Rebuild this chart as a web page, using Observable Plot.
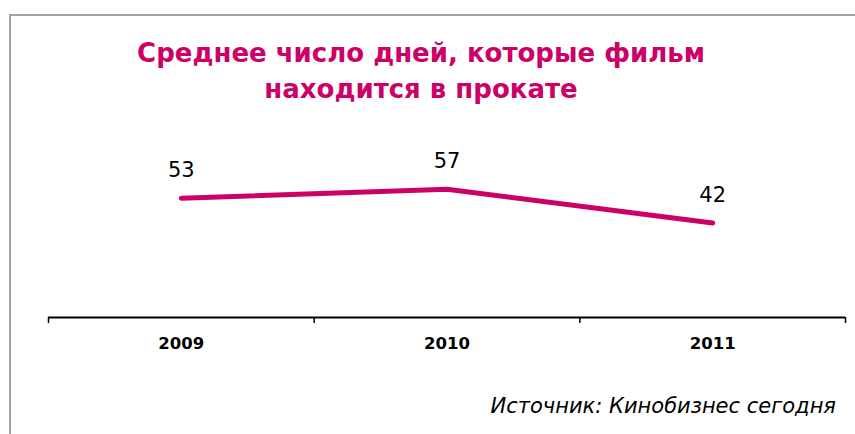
<!DOCTYPE html>
<html>
<head>
<meta charset="utf-8">
<script src="https://cdn.jsdelivr.net/npm/d3@7"></script>
<script src="https://cdn.jsdelivr.net/npm/@observablehq/plot@0.6"></script>
<style>
  html, body { margin: 0; padding: 0; background: #fff; }
  #wrap { position: relative; width: 855px; height: 434px; overflow: hidden; font-family: "DejaVu Sans", Verdana, sans-serif; }
  #frame { position: absolute; left: 9px; top: 14px; width: 900px; height: 500px; border-left: 2px solid #a3a3a3; border-top: 2px solid #a3a3a3; }
  #title { position: absolute; left: 0; top: 35px; width: 842px; text-align: center; color: #cc0066; font-weight: bold; font-size: 26px; line-height: 36px; }
  #chart { position: absolute; left: 0; top: 0; }
  #source { position: absolute; right: 19px; top: 394px; font-style: italic; font-size: 21px; color: #000; }
  #chart svg g[aria-label="x-axis tick label"] text { font-weight: bold; }
</style>
</head>
<body>
<div id="wrap">
  <div id="frame"></div>
  <div id="chart"></div>
  <div id="title">Среднее число дней, которые фильм<br>находится в прокате</div>
  <div id="source">Источник: Кинобизнес сегодня</div>
</div>
<script>
const years = [2009, 2010, 2011];
const days = [53, 57, 42];
const yearLabels = ["2009", "2010", "2011"];
const bandEdges = [2008.5, 2009.5, 2010.5, 2011.5];

const data = years.map((y, i) => ({year: y, days: days[i], label: String(days[i])}));

const chart = Plot.plot({
  width: 855,
  height: 434,
  marginLeft: 48,
  marginRight: 10,
  marginTop: 92,
  marginBottom: 117,
  style: {fontFamily: "'DejaVu Sans', Verdana, sans-serif", background: "transparent", overflow: "visible"},
  x: {domain: [2008.5, 2011.5], label: null},
  y: {domain: [0, 100], axis: null, label: null},
  marks: [
    Plot.ruleY([0], {stroke: "#000", strokeWidth: 2}),
    Plot.axisX(bandEdges, {tickSize: 6, tickFormat: () => "", stroke: "#000", strokeWidth: 1.5, label: null}),
    Plot.axisX(years, {tickSize: 0, tickPadding: 20, tickFormat: (d) => yearLabels[years.indexOf(d)], fontSize: 16.5, fontWeight: "bold", fill: "#000", label: null}),
    Plot.line(data, {x: "year", y: "days", stroke: "#cc0066", strokeWidth: 5, strokeLinecap: "round", strokeLinejoin: "round"}),
    Plot.text(data, {x: "year", y: "days", text: "label", dy: -28, fontSize: 21, fill: "#000"})
  ]
});
document.getElementById("chart").appendChild(chart);
</script>
</body>
</html>
